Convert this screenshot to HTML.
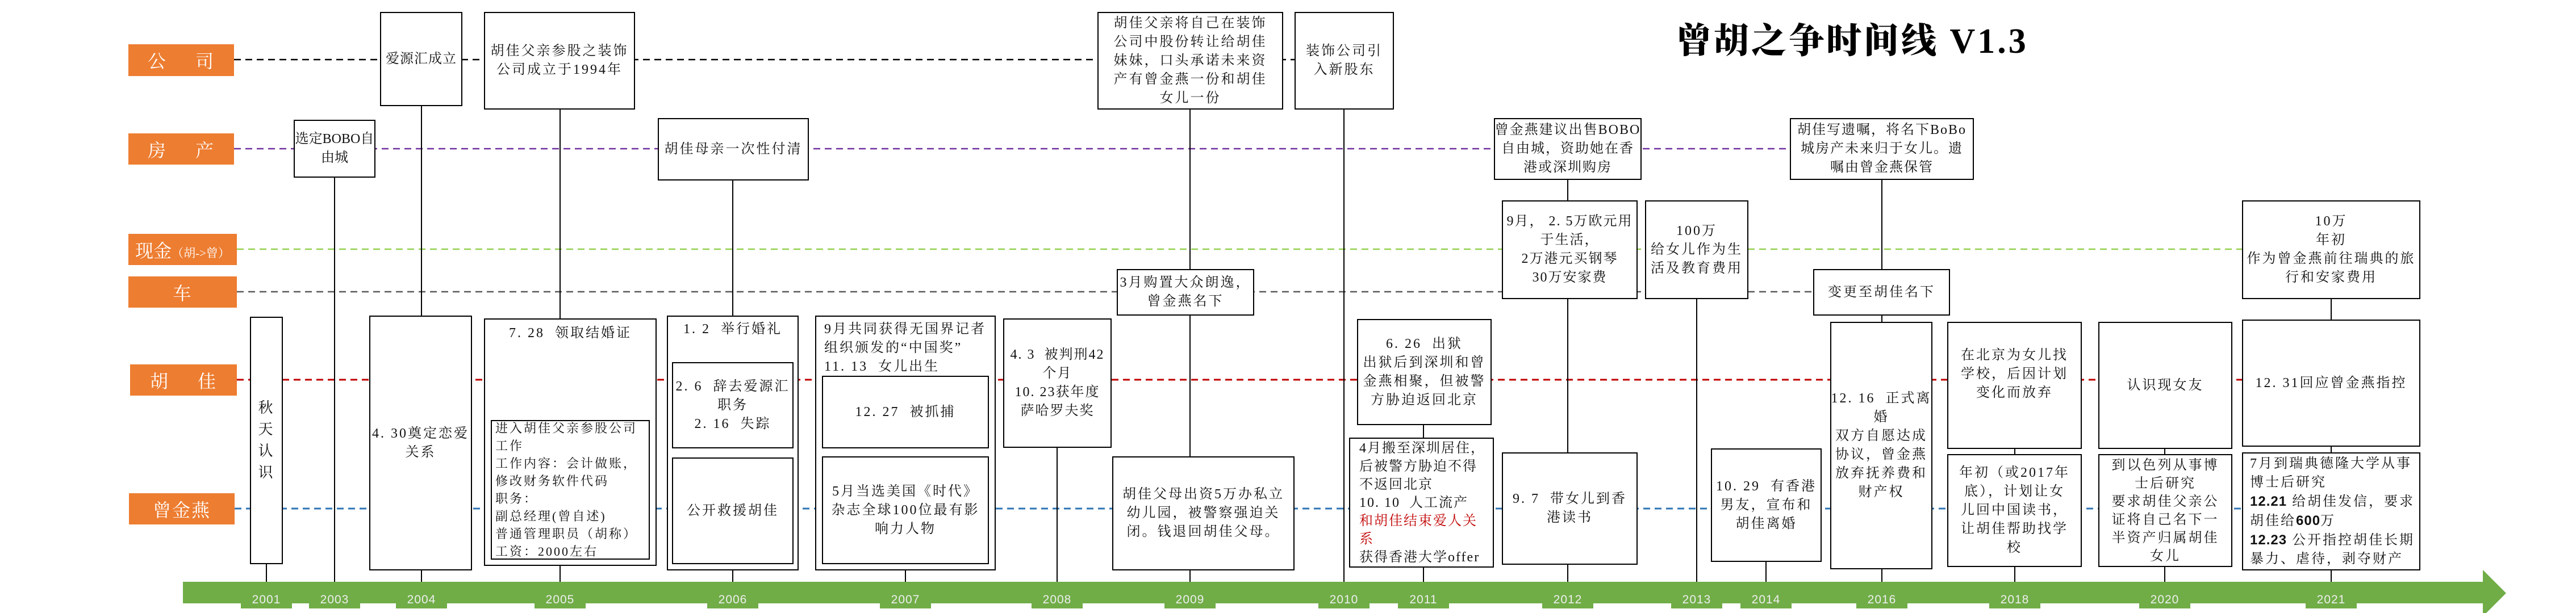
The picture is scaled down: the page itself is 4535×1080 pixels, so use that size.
<!DOCTYPE html>
<html><head><meta charset="utf-8">
<style>
body{margin:0;width:4535px;height:1080px;background:#fff;position:relative;overflow:hidden;font-family:"Liberation Serif","Noto Serif CJK SC",serif;}
.b{position:absolute;border:2px solid #000;background:#fff;box-sizing:border-box;display:flex;align-items:center;justify-content:center;text-align:center;font-size:24px;letter-spacing:3px;line-height:33px;color:#111;white-space:nowrap;overflow:hidden;}
.t{align-items:flex-start;}
.l{text-align:left;justify-content:flex-start;}
.lab{position:absolute;background:#ED7D31;color:#fff;display:flex;align-items:center;justify-content:center;font-size:32px;letter-spacing:2px;font-family:"Liberation Serif","Noto Serif CJK SC",serif;white-space:nowrap;}
.yr{position:absolute;top:1042px;width:90px;height:30px;margin-left:-45px;background:#70AD47;color:#eee;font-size:21px;text-align:center;line-height:30px;font-family:"Liberation Sans",sans-serif;letter-spacing:1px;}
.v{position:absolute;width:2px;background:#000;margin-left:-1px;}
.sb{font-family:'Liberation Sans',sans-serif;letter-spacing:1px;font-weight:bold}
</style></head><body>
<svg width="4535" height="1080" style="position:absolute;left:0;top:0">
<g stroke-width="2.5" stroke-dasharray="12,8" fill="none">
<line x1="412" y1="105" x2="2279" y2="105" stroke="#000"/>
<line x1="412" y1="262" x2="3151" y2="262" stroke="#7030A0"/>
<line x1="417" y1="439" x2="3947" y2="439" stroke="#92D050"/>
<line x1="417" y1="514" x2="3192" y2="514" stroke="#595959"/>
<line x1="417" y1="669" x2="3947" y2="669" stroke="#C00000" stroke-width="3"/>
<line x1="413" y1="896" x2="3947" y2="896" stroke="#2E75B6" stroke-width="3"/>
</g>
<rect x="322" y="1025" width="4049" height="38" fill="#70AD47"/>
<polygon points="4371,1004 4412,1045 4371,1086" fill="#70AD47"/>
</svg>

<div class="lab" style="left:226px;top:78px;width:186px;height:56px">公&nbsp;&nbsp;&nbsp;&nbsp;&nbsp;司</div>
<div class="lab" style="left:226px;top:235px;width:186px;height:55px">房&nbsp;&nbsp;&nbsp;&nbsp;&nbsp;产</div>
<div class="lab" style="left:226px;top:412px;width:191px;height:55px;letter-spacing:0"><div>现金<span style="font-size:21px">（胡-&gt;曾）</span></div></div>
<div class="lab" style="left:226px;top:487px;width:191px;height:55px">车</div>
<div class="lab" style="left:229px;top:642px;width:188px;height:55px">胡&nbsp;&nbsp;&nbsp;&nbsp;&nbsp;佳</div>
<div class="lab" style="left:227px;top:869px;width:186px;height:55px">曾金燕</div>

<div style="position:absolute;left:2951px;top:22px;font-size:62px;font-weight:900;letter-spacing:4px;white-space:nowrap;">曾胡之争时间线 <span style="font-weight:bold">V1.3</span></div>

<div class="v" style="left:469px;top:994px;height:31px"></div>
<div class="v" style="left:589px;top:313px;height:712px"></div>
<div class="v" style="left:742px;top:187px;height:838px"></div>
<div class="v" style="left:986px;top:193px;height:832px"></div>
<div class="v" style="left:1290px;top:318px;height:707px"></div>
<div class="v" style="left:1594px;top:1000px;height:25px"></div>
<div class="v" style="left:1861px;top:789px;height:236px"></div>
<div class="v" style="left:2095px;top:193px;height:832px"></div>
<div class="v" style="left:2366px;top:193px;height:832px"></div>
<div class="v" style="left:2506px;top:749px;height:276px"></div>
<div class="v" style="left:2760px;top:317px;height:708px"></div>
<div class="v" style="left:2987px;top:527px;height:498px"></div>
<div class="v" style="left:3109px;top:990px;height:35px"></div>
<div class="v" style="left:3313px;top:317px;height:708px"></div>
<div class="v" style="left:3547px;top:791px;height:234px"></div>
<div class="v" style="left:3811px;top:791px;height:234px"></div>
<div class="v" style="left:4104px;top:527px;height:498px"></div>

<div class="b" style="left:440px;top:558px;width:58px;height:436px;line-height:38px;font-size:26px"><div>秋<br>天<br>认<br>识</div></div>
<div class="b" style="left:517px;top:211px;width:144px;height:102px;letter-spacing:0"><div>选定BOBO自<br>由城</div></div>
<div class="b" style="left:669px;top:21px;width:145px;height:166px;letter-spacing:1px"><div>爱源汇成立</div></div>
<div class="b" style="left:650px;top:556px;width:181px;height:449px"><div>4.&nbsp;30奠定恋爱<br>关系</div></div>

<div class="b" style="left:852px;top:21px;width:266px;height:172px"><div>胡佳父亲参股之装饰<br>公司成立于1994年</div></div>
<div class="b t" style="left:852px;top:561px;width:304px;height:436px;padding-top:8px"><div>7.&nbsp;28&nbsp;&nbsp;领取结婚证</div></div>
<div class="b l" style="left:864px;top:740px;width:280px;height:246px;font-size:22px;letter-spacing:3px;line-height:31px;padding-left:6px"><div>进入胡佳父亲参股公司<br>工作<br>工作内容：会计做账，<br>修改财务软件代码<br>职务：<br>副总经理(曾自述)<br>普通管理职员（胡称）<br>工资：2000左右</div></div>

<div class="b" style="left:1158px;top:208px;width:266px;height:110px"><div>胡佳母亲一次性付清</div></div>
<div class="b t" style="left:1174px;top:556px;width:232px;height:449px;padding-top:6px"><div>1.&nbsp;2&nbsp;&nbsp;举行婚礼</div></div>
<div class="b" style="left:1183px;top:638px;width:214px;height:152px"><div>2.&nbsp;6&nbsp;&nbsp;辞去爱源汇<br>职务<br>2.&nbsp;16&nbsp;&nbsp;失踪</div></div>
<div class="b" style="left:1183px;top:806px;width:214px;height:188px"><div>公开救援胡佳</div></div>

<div class="b t l" style="left:1435px;top:556px;width:318px;height:449px;padding:6px 0 0 14px"><div>9月共同获得无国界记者<br>组织颁发的“中国奖”<br>11.&nbsp;13&nbsp;&nbsp;女儿出生</div></div>
<div class="b" style="left:1447px;top:662px;width:294px;height:128px"><div>12.&nbsp;27&nbsp;&nbsp;被抓捕</div></div>
<div class="b" style="left:1447px;top:804px;width:294px;height:190px"><div>5月当选美国《时代》<br>杂志全球100位最有影<br>响力人物</div></div>

<div class="b" style="left:1766px;top:561px;width:191px;height:228px;letter-spacing:2px"><div>4.&nbsp;3&nbsp;&nbsp;被判刑42<br>个月<br>10.&nbsp;23获年度<br>萨哈罗夫奖</div></div>

<div class="b" style="left:1932px;top:21px;width:327px;height:172px"><div>胡佳父亲将自己在装饰<br>公司中股份转让给胡佳<br>妹妹，口头承诺未来资<br>产有曾金燕一份和胡佳<br>女儿一份</div></div>
<div class="b" style="left:1966px;top:474px;width:242px;height:82px"><div>3月购置大众朗逸，<br>曾金燕名下</div></div>
<div class="b" style="left:1958px;top:804px;width:321px;height:201px"><div>胡佳父母出资5万办私立<br>幼儿园，被警察强迫关<br>闭。钱退回胡佳父母。</div></div>

<div class="b" style="left:2279px;top:21px;width:175px;height:172px"><div>装饰公司引<br>入新股东</div></div>
<div class="b" style="left:2389px;top:562px;width:237px;height:187px"><div>6.&nbsp;26&nbsp;&nbsp;出狱<br>出狱后到深圳和曾<br>金燕相聚，但被警<br>方胁迫返回北京</div></div>
<div class="b l" style="left:2375px;top:771px;width:255px;height:229px;padding-left:16px;line-height:32px;letter-spacing:2px"><div>4月搬至深圳居住，<br>后被警方胁迫不得<br>不返回北京<br>10.&nbsp;10&nbsp;&nbsp;人工流产<br><span style="color:#C00000">和胡佳结束爱人关<br>系</span><br>获得香港大学offer</div></div>

<div class="b" style="left:2630px;top:208px;width:260px;height:109px;letter-spacing:2px"><div>曾金燕建议出售BOBO<br>自由城，资助她在香<br>港或深圳购房</div></div>
<div class="b" style="left:2644px;top:353px;width:239px;height:174px;letter-spacing:2px"><div>9月，&nbsp;2.&nbsp;5万欧元用<br>于生活，<br>2万港元买钢琴<br>30万安家费</div></div>
<div class="b" style="left:2644px;top:797px;width:239px;height:198px"><div>9.&nbsp;7&nbsp;&nbsp;带女儿到香<br>港读书</div></div>
<div class="b" style="left:2896px;top:353px;width:182px;height:174px"><div>100万<br>给女儿作为生<br>活及教育费用</div></div>

<div class="b" style="left:3012px;top:790px;width:195px;height:200px"><div>10.&nbsp;29&nbsp;&nbsp;有香港<br>男友，宣布和<br>胡佳离婚</div></div>
<div class="b" style="left:3151px;top:208px;width:324px;height:109px;letter-spacing:2px"><div>胡佳写遗嘱，将名下BoBo<br>城房产未来归于女儿。遗<br>嘱由曾金燕保管</div></div>
<div class="b" style="left:3192px;top:474px;width:241px;height:82px"><div>变更至胡佳名下</div></div>
<div class="b" style="left:3222px;top:567px;width:180px;height:436px"><div>12.&nbsp;16&nbsp;&nbsp;正式离<br>婚<br>双方自愿达成<br>协议，曾金燕<br>放弃抚养费和<br>财产权</div></div>

<div class="b" style="left:3428px;top:567px;width:237px;height:224px;padding-bottom:40px"><div>在北京为女儿找<br>学校，后因计划<br>变化而放弃</div></div>
<div class="b" style="left:3428px;top:800px;width:237px;height:199px"><div>年初（或2017年<br>底），计划让女<br>儿回中国读书，<br>让胡佳帮助找学<br>校</div></div>

<div class="b" style="left:3694px;top:567px;width:236px;height:224px"><div>认识现女友</div></div>
<div class="b" style="left:3694px;top:800px;width:236px;height:199px;line-height:32px"><div>到以色列从事博<br>士后研究<br>要求胡佳父亲公<br>证将自己名下一<br>半资产归属胡佳<br>女儿</div></div>

<div class="b" style="left:3947px;top:353px;width:314px;height:174px"><div>10万<br>年初<br>作为曾金燕前往瑞典的旅<br>行和安家费用</div></div>
<div class="b" style="left:3947px;top:563px;width:314px;height:224px"><div>12.&nbsp;31回应曾金燕指控</div></div>
<div class="b l" style="left:3947px;top:797px;width:314px;height:208px;padding-left:12px;line-height:33px"><div>7月到瑞典德隆大学从事<br>博士后研究<br><span class="sb">12.21</span>&nbsp;给胡佳发信，要求<br>胡佳给<span class="sb">600</span>万<br><span class="sb">12.23</span>&nbsp;公开指控胡佳长期<br>暴力、虐待，剥夺财产</div></div>

<div class="yr" style="left:469px">2001</div>
<div class="yr" style="left:589px">2003</div>
<div class="yr" style="left:742px">2004</div>
<div class="yr" style="left:986px">2005</div>
<div class="yr" style="left:1290px">2006</div>
<div class="yr" style="left:1594px">2007</div>
<div class="yr" style="left:1861px">2008</div>
<div class="yr" style="left:2095px">2009</div>
<div class="yr" style="left:2366px">2010</div>
<div class="yr" style="left:2506px">2011</div>
<div class="yr" style="left:2760px">2012</div>
<div class="yr" style="left:2987px">2013</div>
<div class="yr" style="left:3109px">2014</div>
<div class="yr" style="left:3313px">2016</div>
<div class="yr" style="left:3547px">2018</div>
<div class="yr" style="left:3811px">2020</div>
<div class="yr" style="left:4104px">2021</div>
</body></html>
